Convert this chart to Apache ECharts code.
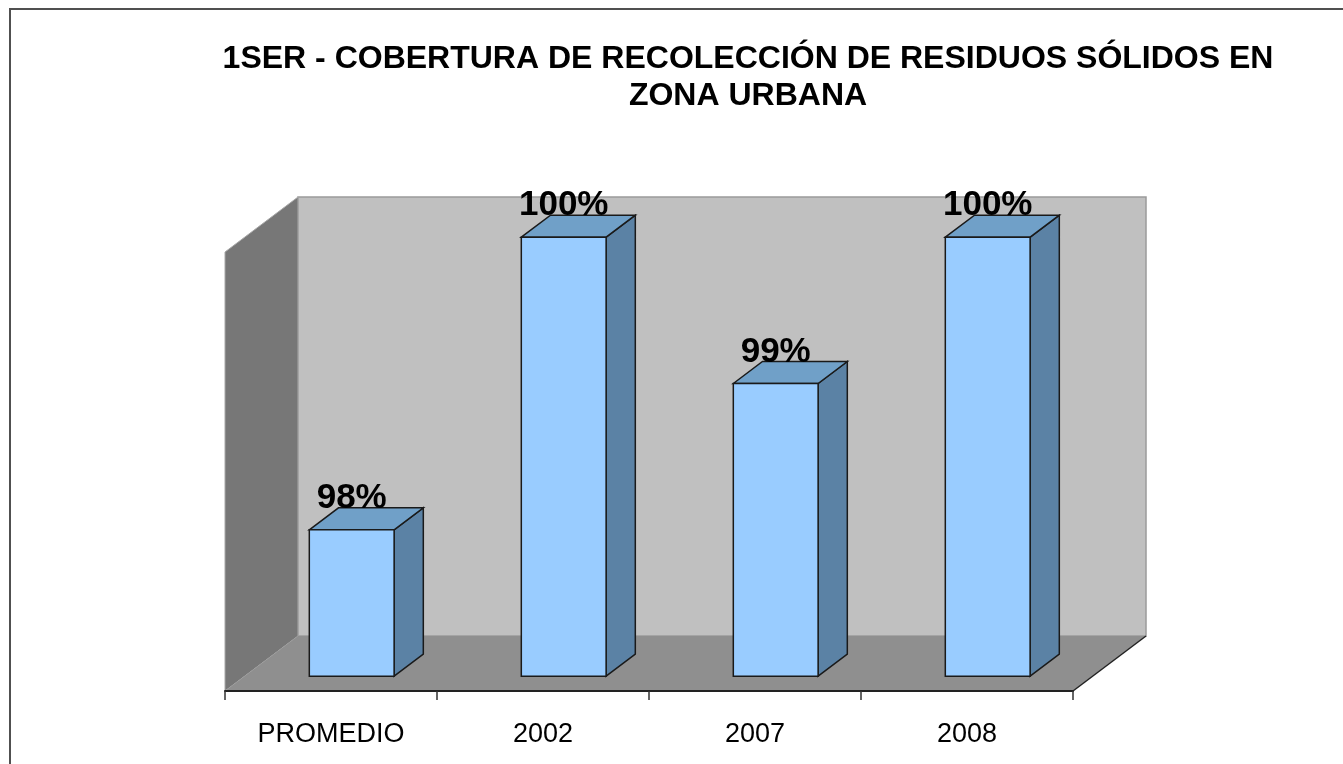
<!doctype html>
<html>
<head>
<meta charset="utf-8">
<script src="https://cdn.jsdelivr.net/npm/echarts@6/dist/echarts.min.js"></script>
<style>
    html, body {
        margin: 0;
        padding: 0;
        background: #fff;
    }
    #main {
        width: 1343px;
        height: 764px;
    }
</style>
</head>
<body>
<div id="main"></div>
<script>
// datos
var categorias = ['PROMEDIO', '2002', '2007', '2008'];
var cobertura = [98, 100, 99, 100];
var ejeMin = 97;
var ejeMax = 100;

// profundidad de la caja 3D (px) y posicion de las barras dentro de ella
var PROF = [73, -55];
var BARRA_INI = 0.27;
var BARRA_FON = 0.40;

var myChart = echarts.init(document.getElementById('main'));

function paredes(params, api) {
    var cs = params.coordSys;
    var x0 = cs.x, y0 = cs.y, x1 = cs.x + cs.width, y1 = cs.y + cs.height;
    var dx = PROF[0], dy = PROF[1];
    return {
        type: 'group',
        children: [
            {
                type: 'rect',
                shape: { x: x0 + dx, y: y0 + dy, width: cs.width, height: cs.height },
                style: { fill: '#c0c0c0', stroke: '#9a9a9a', lineWidth: 1.5 }
            },
            {
                type: 'polygon',
                shape: { points: [[x0, y0], [x0 + dx, y0 + dy], [x0 + dx, y1 + dy], [x0, y1]] },
                style: { fill: '#777777', stroke: '#a8a8a8', lineWidth: 1 }
            },
            {
                type: 'polygon',
                shape: { points: [[x0, y1], [x0 + dx, y1 + dy], [x1 + dx, y1 + dy], [x1, y1]] },
                style: { fill: '#8f8f8f' }
            },
            {
                type: 'line',
                shape: { x1: x1, y1: y1, x2: x1 + dx, y2: y1 + dy },
                style: { stroke: '#222', lineWidth: 1.5 }
            }
        ]
    };
}

function barra3d(params, api) {
    var idx = api.value(0);
    var val = api.value(1);
    var base = api.coord([idx, ejeMin]);
    var tope = api.coord([idx, val]);
    var ancho = api.size([1, 0])[0] * 0.4;
    var sx = PROF[0] * BARRA_INI + 1, sy = PROF[1] * BARRA_INI;
    var px = PROF[0] * BARRA_FON, py = PROF[1] * BARRA_FON;
    var xl = base[0] + sx - ancho / 2;
    var xr = base[0] + sx + ancho / 2;
    var yb = base[1] + sy;
    var yt = tope[1] + sy;
    var borde = { stroke: '#1a1a1a', lineWidth: 1.5 };
    return {
        type: 'group',
        children: [
            {
                type: 'polygon',
                shape: { points: [[xr, yb], [xr + px, yb + py], [xr + px, yt + py], [xr, yt]] },
                style: Object.assign({ fill: '#5b82a5' }, borde)
            },
            {
                type: 'polygon',
                shape: { points: [[xl, yt], [xl + px, yt + py], [xr + px, yt + py], [xr, yt]] },
                style: Object.assign({ fill: '#70a0c8' }, borde)
            },
            {
                type: 'rect',
                shape: { x: xl, y: yt, width: ancho, height: yb - yt },
                style: Object.assign({ fill: '#99ccff' }, borde)
            },
            {
                type: 'text',
                z2: 20,
                style: {
                    text: val + '%',
                    x: (xl + xr) / 2,
                    y: yt + py + 8,
                    align: 'center',
                    verticalAlign: 'bottom',
                    font: 'bold 35px "Liberation Sans", Arial, sans-serif',
                    fill: '#000'
                }
            }
        ]
    };
}

var serieDatos = cobertura.map(function (v, i) { return [i, v]; });

var option = {
    animation: false,
    grid: {
        left: 225,
        right: 270,
        top: 252,
        bottom: 73
    },
    graphic: [
        {
            type: 'rect',
            silent: true,
            shape: { x: 10, y: 9, width: 1400, height: 800 },
            style: { fill: 'none', stroke: '#505050', lineWidth: 2 }
        },
        {
            type: 'text',
            silent: true,
            style: {
                text: '1SER - COBERTURA DE RECOLECCIÓN DE RESIDUOS SÓLIDOS EN\nZONA URBANA',
                x: 748,
                y: 41,
                align: 'center',
                verticalAlign: 'top',
                lineHeight: 37,
                font: 'bold 32px "Liberation Sans", Arial, sans-serif',
                fill: '#000'
            }
        }
    ],
    xAxis: {
        type: 'category',
        data: categorias,
        z: 10,
        axisLine: { lineStyle: { color: '#222', width: 2 } },
        axisTick: { show: true, length: 9, lineStyle: { color: '#333', width: 1.5 } },
        axisLabel: {
            margin: 30,
            color: '#000',
            fontSize: 27,
            fontFamily: '"Liberation Sans", Arial, sans-serif'
        }
    },
    yAxis: {
        type: 'value',
        min: ejeMin,
        max: ejeMax,
        show: false,
        splitLine: { show: false }
    },
    series: [
        {
            type: 'custom',
            silent: true,
            z: 1,
            renderItem: paredes,
            data: [[0, ejeMin]]
        },
        {
            type: 'custom',
            silent: true,
            z: 3,
            renderItem: barra3d,
            encode: { x: 0, y: 1 },
            data: serieDatos
        }
    ]
};

myChart.setOption(option);
</script>
</body>
</html>
